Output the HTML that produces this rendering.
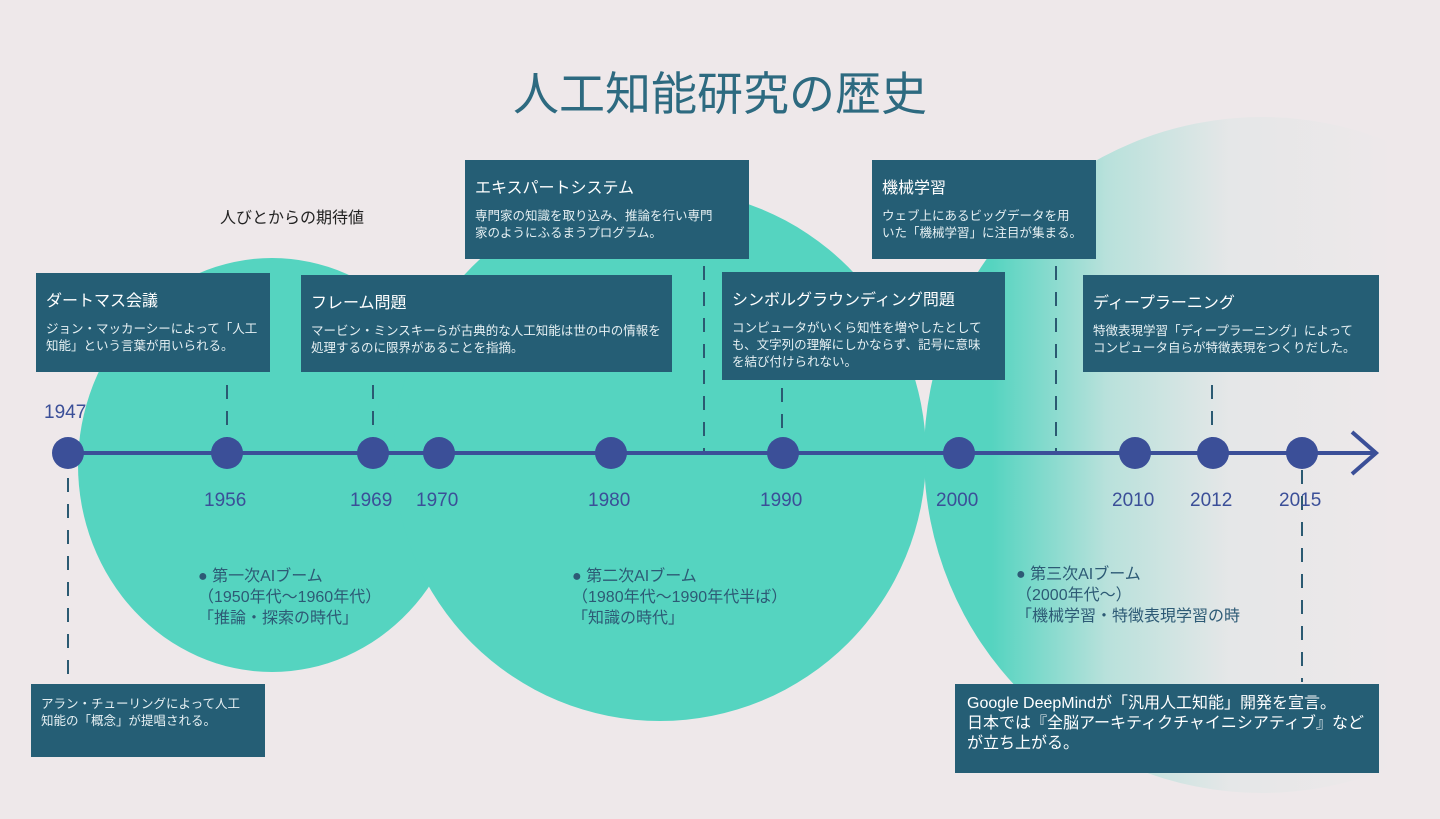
<!DOCTYPE html>
<html><head><meta charset="utf-8"><style>
*{margin:0;padding:0;box-sizing:border-box}
body{width:1440px;height:819px;background:#eee8ea;position:relative;overflow:hidden;font-family:"Liberation Sans","Noto Sans CJK JP",sans-serif}
.box{position:absolute;background:#255e75;color:#fff;padding:14px 10px 0 10px;white-space:nowrap}
.box h3{font-weight:normal;font-size:16px;margin-bottom:10px}
.box p{font-size:12.5px;line-height:17px;color:#e6f0f3}
.t{position:absolute;font-size:19px;color:#3b4f98}
.era{position:absolute;font-size:16px;line-height:21px;color:#2d5a75;white-space:nowrap}
</style></head><body>
<svg width="1440" height="819" style="position:absolute;left:0;top:0">
<defs><linearGradient id="g" x1="0" x2="1" y1="0" y2="0"><stop offset="0" stop-color="#55d4c0"/><stop offset="0.1" stop-color="#55d4c0"/><stop offset="0.27" stop-color="#55d4c0" stop-opacity="0.35"/><stop offset="0.45" stop-color="#55d4c0" stop-opacity="0.06"/><stop offset="0.7" stop-color="#55d4c0" stop-opacity="0"/></linearGradient></defs>
<circle cx="1262" cy="455" r="338" fill="url(#g)"/>
<ellipse cx="272" cy="465" rx="194" ry="207" fill="#55d4c0"/>
<circle cx="660" cy="455" r="266" fill="#55d4c0"/>
<g stroke="#2b5a72" stroke-width="2" stroke-dasharray="14,12">
<line x1="227" y1="385" x2="227" y2="450"/><line x1="373" y1="385" x2="373" y2="450"/>
<line x1="704" y1="266" x2="704" y2="453"/><line x1="782" y1="388" x2="782" y2="450"/>
<line x1="1056" y1="266" x2="1056" y2="453"/><line x1="1212" y1="385" x2="1212" y2="450"/>
<line x1="68" y1="478" x2="68" y2="682"/><line x1="1302" y1="470" x2="1302" y2="682"/>
</g>
<line x1="68" y1="453" x2="1376" y2="453" stroke="#3b4f98" stroke-width="4"/>
<polyline points="1352,432 1376,453 1352,474" fill="none" stroke="#3b4f98" stroke-width="4"/>
<g fill="#3b4f98">
<circle cx="68" cy="453" r="16"/><circle cx="227" cy="453" r="16"/><circle cx="373" cy="453" r="16"/><circle cx="439" cy="453" r="16"/><circle cx="611" cy="453" r="16"/><circle cx="783" cy="453" r="16"/><circle cx="959" cy="453" r="16"/><circle cx="1135" cy="453" r="16"/><circle cx="1213" cy="453" r="16"/><circle cx="1302" cy="453" r="16"/>
</g>
</svg>
<div style="position:absolute;left:0;width:1440px;top:58px;text-align:center;font-size:46px;color:#2d6a80">人工知能研究の歴史</div>
<div style="position:absolute;left:220px;top:204px;font-size:16px;color:#222">人びとからの期待値</div>
<div class="t" style="left:44px;top:402px">1947</div>
<div class="t" style="left:204px;top:490px">1956</div>
<div class="t" style="left:350px;top:490px">1969</div>
<div class="t" style="left:416px;top:490px">1970</div>
<div class="t" style="left:588px;top:490px">1980</div>
<div class="t" style="left:760px;top:490px">1990</div>
<div class="t" style="left:936px;top:490px">2000</div>
<div class="t" style="left:1112px;top:490px">2010</div>
<div class="t" style="left:1190px;top:490px">2012</div>
<div class="t" style="left:1279px;top:490px">2015</div>
<div class="box" style="left:36px;top:273px;width:234px;height:99px"><h3>ダートマス会議</h3><p>ジョン・マッカーシーによって「人工<br>知能」という言葉が用いられる。</p></div>
<div class="box" style="left:301px;top:275px;width:371px;height:97px"><h3>フレーム問題</h3><p>マービン・ミンスキーらが古典的な人工知能は世の中の情報を<br>処理するのに限界があることを指摘。</p></div>
<div class="box" style="left:465px;top:160px;width:284px;height:99px"><h3>エキスパートシステム</h3><p>専門家の知識を取り込み、推論を行い専門<br>家のようにふるまうプログラム。</p></div>
<div class="box" style="left:722px;top:272px;width:283px;height:108px"><h3>シンボルグラウンディング問題</h3><p>コンピュータがいくら知性を増やしたとして<br>も、文字列の理解にしかならず、記号に意味<br>を結び付けられない。</p></div>
<div class="box" style="left:872px;top:160px;width:224px;height:99px"><h3>機械学習</h3><p>ウェブ上にあるビッグデータを用<br>いた「機械学習」に注目が集まる。</p></div>
<div class="box" style="left:1083px;top:275px;width:296px;height:97px"><h3>ディープラーニング</h3><p>特徴表現学習「ディープラーニング」によって<br>コンピュータ自らが特徴表現をつくりだした。</p></div>
<div class="box" style="left:31px;top:684px;width:234px;height:73px;padding-top:12px"><p>アラン・チューリングによって人工<br>知能の「概念」が提唱される。</p></div>
<div class="box" style="left:955px;top:684px;width:424px;height:89px;padding:10px 12px"><p style="font-size:16px;line-height:20px;color:#fff">Google DeepMindが「汎用人工知能」開発を宣言。<br>日本では『全脳アーキティクチャイニシアティブ』など<br>が立ち上がる。</p></div>
<div class="era" style="left:198px;top:566px">● 第一次AIブーム<br>（1950年代〜1960年代）<br>「推論・探索の時代」</div>
<div class="era" style="left:572px;top:566px">● 第二次AIブーム<br>（1980年代〜1990年代半ば）<br>「知識の時代」</div>
<div class="era" style="left:1016px;top:564px">● 第三次AIブーム<br>（2000年代〜）<br>「機械学習・特徴表現学習の時</div>
</body></html>
